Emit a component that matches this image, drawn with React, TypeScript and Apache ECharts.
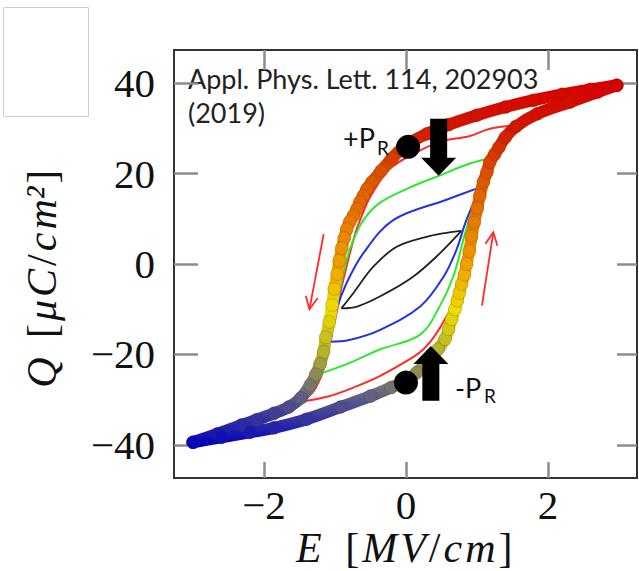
import React, { useEffect, useRef } from "react";
import * as echarts from "echarts";

// ---- tick values ----
const xTicks = [-2, 0, 2];
const yTicks = [-40, -20, 0, 20, 40];

// ---- main (outer) hysteresis loop, E [MV/cm], Q [uC/cm2] ----
const mainDown: number[][] = [
  [2.97, 39.5], [2.6, 38.6], [2.2, 37.5], [1.8, 36.2], [1.4, 34.7], [1.0, 32.9],
  [0.6, 30.8], [0.3, 28.8], [0.0, 26.3], [-0.2, 23.3], [-0.35, 20.6], [-0.48, 18.1],
  [-0.55, 16.6], [-0.6, 15.1], [-0.65, 13.7], [-0.69, 12.2], [-0.74, 10.7], [-0.79, 9.4],
  [-0.835, 7.7], [-0.87, 5.7], [-0.905, 3.5], [-0.94, 0.7], [-0.97, -2.2], [-1.01, -5.5],
  [-1.04, -9.1], [-1.08, -12.8], [-1.13, -16.2], [-1.16, -19.4], [-1.21, -22.1],
  [-1.27, -24.4], [-1.35, -26.8], [-1.48, -29.6], [-1.65, -31.6], [-1.86, -33.0],
  [-2.1, -34.4], [-2.32, -35.6], [-2.65, -37.5], [-3.0, -39.4],
];
const mainUp: number[][] = [
  [-3.0, -39.4], [-2.6, -38.3], [-2.2, -37.2], [-1.86, -36.2], [-1.4, -34.3],
  [-0.92, -31.6], [-0.5, -29.2], [-0.21, -27.3], [0.0, -25.8], [0.15, -24.0],
  [0.3, -21.7], [0.455, -18.8], [0.55, -16.6], [0.6, -14.4], [0.643, -12.2],
  [0.69, -10.0], [0.723, -8.1], [0.751, -6.4], [0.784, -4.4], [0.822, -2.4],
  [0.854, 0.0], [0.892, 2.9], [0.925, 6.1], [0.962, 9.2], [1.004, 12.3], [1.04, 15.1],
  [1.09, 18.1], [1.14, 20.3], [1.18, 22.5], [1.25, 24.3], [1.31, 25.8], [1.4, 28.0],
  [1.55, 30.4], [1.85, 33.2], [2.31, 35.8], [2.7, 38.0], [2.97, 39.5],
];

// ---- minor loops ----
const redDown: number[][] = [
  [1.45, 30.5], [1.18, 29.9], [0.9, 28.3], [0.48, 27.0], [0.15, 24.7], [-0.23, 21.0],
  [-0.5, 15.0], [-0.6, 11.5], [-0.7, 7.5], [-0.78, 3.0], [-0.86, -2.0], [-0.92, -6.0],
  [-0.98, -11.0], [-1.05, -16.0], [-1.12, -21.0], [-1.2, -25.0], [-1.32, -28.5], [-1.5, -30.5],
];
const redUp: number[][] = [
  [-1.5, -30.5], [-1.1, -29.3], [-0.69, -27.0], [-0.37, -24.8], [0.1, -20.6],
  [0.25, -18.8], [0.4, -16.0], [0.57, -11.6], [0.71, -7.0], [0.81, 0.5], [0.9, 7.0],
  [0.97, 12.0], [1.05, 17.0], [1.15, 22.0], [1.3, 27.0], [1.45, 30.5],
];
const greenDown: number[][] = [
  [1.25, 23.6], [0.9, 22.2], [0.48, 19.6], [0.01, 16.6], [-0.37, 13.5], [-0.6, 9.7],
  [-0.76, 4.6], [-0.86, -0.6], [-0.93, -5.7], [-0.99, -10.7], [-1.04, -15.1],
  [-1.11, -19.8], [-1.2, -24.2],
];
const greenUp: number[][] = [
  [-1.2, -24.2], [-0.8, -21.9], [-0.37, -18.9], [0.2, -15.6], [0.48, -9.2],
  [0.67, -2.6], [0.81, 5.5], [0.93, 12.2], [1.05, 18.5], [1.25, 23.6],
];
const blueDown: number[][] = [
  [1.05, 17.0], [0.57, 14.2], [-0.18, 9.7], [-0.6, 2.4], [-0.84, -4.3],
  [-0.98, -10.2], [-1.07, -17.2],
];
const blueUp: number[][] = [
  [-1.07, -17.2], [-0.8, -16.8], [-0.37, -14.6], [0.2, -9.4], [0.53, -2.8],
  [0.71, 3.1], [0.85, 9.7], [1.05, 17.0],
];
const blackDown: number[][] = [
  [0.78, 7.3], [0.57, 6.9], [0.34, 6.2], [-0.13, 3.8], [-0.46, -0.6], [-0.74, -6.4], [-0.91, -9.8],
];
const blackUp: number[][] = [
  [-0.91, -9.8], [-0.69, -9.4], [-0.37, -7.2], [0.1, -2.8], [0.48, 2.4], [0.78, 7.3],
];

// ---- remanent polarisation points (+P_R, -P_R) ----
const remanence: number[][] = [[0.03, 25.9], [0.0, -26.2]];
// ---- thick black arrows: [E, Q from, Q to] ----
const bigArrows: number[][] = [[0.46, 32.1, 19.5], [0.35, -30.2, -18.1]];
// ---- thin red sweep-direction arrows: [E0, Q0, E1, Q1] ----
const sweepArrows: number[][] = [[-1.16, 6.6, -1.36, -10.0], [1.07, -9.2, 1.23, 7.0]];

const loopColors = ["#ff2a2a", "#2ee82e", "#2233e6", "#222222"];
const gradColors = [
  "#0000c0", "#5a5a8a", "#b0b030", "#eedd00", "#eea000",
  "#e67800", "#dc5000", "#d01800", "#d80000",
];

const SERIF = "'Liberation Serif', 'DejaVu Serif', serif";
const SANS = "Lato, 'Open Sans', sans-serif";

const fmt = (v: number) => (v < 0 ? "\u2212" + Math.abs(v) : String(v));

export default function App() {
  const ref = useRef<HTMLDivElement>(null);
  useEffect(() => {
    if (!ref.current) return;
    const chart = echarts.init(ref.current, undefined, { renderer: "svg" });
    const frame = { show: true, onZero: false, lineStyle: { color: "#333", width: 2 } };
    const tickStyle = { color: "#8c8c8c", width: 2.5 };
    const xMin = -3.268, xMax = 3.254, yMin = -47.3, yMax = 47.3;

    const loopSeries: any[] = [];
    const loops = [
      [redDown, redUp], [greenDown, greenUp], [blueDown, blueUp], [blackDown, blackUp],
    ];
    loops.forEach((pair, i) => {
      pair.forEach((d) => {
        loopSeries.push({
          type: "line", data: d, smooth: 0.35, showSymbol: false, silent: true,
          lineStyle: { color: loopColors[i], width: i === 3 ? 1.8 : 2 },
          itemStyle: { color: loopColors[i] },
        });
      });
    });
    const mainSeries = [mainDown, mainUp].map((d) => ({
      type: "line", data: d, smooth: 0.3, showSymbol: true, showAllSymbol: true,
      symbol: "circle", symbolSize: 13, silent: true,
      lineStyle: { width: 12 },
      itemStyle: { borderColor: "rgba(90,50,0,0.25)", borderWidth: 1 },
    }));

    const mathStyle = (italic: boolean, size = 42, pad = 1.5) => ({
      fontFamily: SERIF, fontStyle: italic ? "italic" : "normal", fontSize: size,
      fill: "#111", lineHeight: 28, padding: [0, pad, 0, pad],
    });

    chart.setOption({
      animation: false,
      grid: { left: 174, right: 2, top: 50, bottom: 93 },
      xAxis: [
        {
          type: "value", min: xMin, max: xMax, position: "bottom", axisLine: frame,
          splitLine: { show: false },
          axisTick: { show: true, inside: true, length: 16, lineStyle: tickStyle, customValues: xTicks },
          axisLabel: {
            customValues: xTicks, formatter: fmt, fontFamily: SERIF, fontSize: 41,
            color: "#111", margin: 12, lineHeight: 30,
          },
        },
        {
          type: "value", min: xMin, max: xMax, position: "top", axisLine: frame,
          splitLine: { show: false },
          axisTick: { show: true, inside: true, length: 20, lineStyle: tickStyle, customValues: xTicks },
          axisLabel: { show: false },
        },
      ],
      yAxis: [
        {
          type: "value", min: yMin, max: yMax, position: "left", axisLine: frame,
          splitLine: { show: false },
          axisTick: { show: true, inside: true, length: 24, lineStyle: tickStyle, customValues: yTicks },
          axisLabel: {
            customValues: yTicks, formatter: fmt, fontFamily: SERIF, fontSize: 41,
            color: "#111", margin: 19,
          },
        },
        {
          type: "value", min: yMin, max: yMax, position: "right", axisLine: frame,
          splitLine: { show: false },
          axisTick: { show: true, inside: true, length: 20, lineStyle: tickStyle, customValues: yTicks },
          axisLabel: { show: false },
        },
      ],
      visualMap: {
        type: "continuous", show: false, dimension: 1, seriesIndex: [8, 9],
        min: -40, max: 40, inRange: { color: gradColors },
      },
      series: [
        ...loopSeries,
        ...mainSeries,
        {
          type: "scatter", data: remanence, symbol: "circle", symbolSize: 24, silent: true, z: 5,
          itemStyle: { color: "#000", opacity: 1 },
        },
        {
          type: "custom", data: bigArrows, encode: { x: 0, y: [1, 2] }, silent: true, z: 5,
          renderItem: (_p: any, api: any) => {
            const x = api.value(0);
            const p0 = api.coord([x, api.value(1)]);
            const p1 = api.coord([x, api.value(2)]);
            const dir = Math.sign(p1[1] - p0[1]);
            const sw = 8.5, hw = 17.5, hl = 18;
            const cx = p0[0];
            const hb = p1[1] - dir * hl;
            return {
              type: "polygon",
              shape: {
                points: [
                  [cx - sw, p0[1]], [cx + sw, p0[1]], [cx + sw, hb], [cx + hw, hb],
                  [cx, p1[1]], [cx - hw, hb], [cx - sw, hb],
                ],
              },
              style: { fill: "#000" },
            };
          },
        },
        {
          type: "custom", data: sweepArrows, encode: { x: [0, 2], y: [1, 3] }, silent: true, z: 5,
          renderItem: (_p: any, api: any) => {
            const a = api.coord([api.value(0), api.value(1)]);
            const b = api.coord([api.value(2), api.value(3)]);
            const ang = Math.atan2(b[1] - a[1], b[0] - a[0]);
            const L = 14, spread = 0.45;
            const h1 = [b[0] - L * Math.cos(ang - spread), b[1] - L * Math.sin(ang - spread)];
            const h2 = [b[0] - L * Math.cos(ang + spread), b[1] - L * Math.sin(ang + spread)];
            const st = { stroke: "#ff2a2a", lineWidth: 1.8, fill: "none" };
            return {
              type: "group",
              children: [
                { type: "line", shape: { x1: a[0], y1: a[1], x2: b[0], y2: b[1] }, style: st },
                { type: "polyline", shape: { points: [h1, b, h2] }, style: st },
              ],
            };
          },
        },
      ],
      graphic: [
        {
          type: "rect", left: 3, top: 7, shape: { width: 85, height: 109 },
          style: { fill: "#fff", stroke: "#cfcfcf", lineWidth: 1 },
        },
        {
          type: "text", x: 188, y: 61,
          style: {
            text: "Appl. Phys. Lett. 114, 202903\n(2019)", fontFamily: SANS, fontSize: 27,
            lineHeight: 34, fill: "#222", verticalAlign: "top",
          },
        },
        { type: "text", x: 343, y: 137.5, z: 10, style: { text: "+P", fontFamily: SANS, fontSize: 27, fill: "#111", verticalAlign: "middle" } },
        { type: "text", x: 377, y: 147, z: 10, style: { text: "R", fontFamily: SANS, fontSize: 19, fill: "#111", verticalAlign: "middle" } },
        { type: "text", x: 455, y: 387.5, z: 10, style: { text: "-P", fontFamily: SANS, fontSize: 27, fill: "#111", verticalAlign: "middle" } },
        { type: "text", x: 484, y: 395, z: 10, style: { text: "R", fontFamily: SANS, fontSize: 19, fill: "#111", verticalAlign: "middle" } },
        {
          type: "text", x: 405, y: 548,
          style: {
            text: "{e|E}{b|[}{i|M}{i|V}{b|/}{i|c}{i|m}{b|]}", align: "center", verticalAlign: "middle",
            rich: {
              e: { ...mathStyle(true), padding: [0, 22, 0, 0] },
              i: mathStyle(true),
              b: mathStyle(false),
            },
          },
        },
        {
          type: "text", x: 42, y: 278, rotation: Math.PI / 2,
          style: {
            text: "{e|Q}{b|[}{i|\u03bc}{i|C}{b|/}{i|c}{i|m\u00b2}{b|]}", align: "center", verticalAlign: "middle",
            rich: {
              e: { ...mathStyle(true), padding: [0, 18, 0, 0] },
              i: mathStyle(true),
              b: mathStyle(false),
            },
          },
        },
      ],
    });
    return () => chart.dispose();
  }, []);
  return <div ref={ref} style={{ width: 639, height: 571, position: "absolute", left: 0, top: 0 }} />;
}
